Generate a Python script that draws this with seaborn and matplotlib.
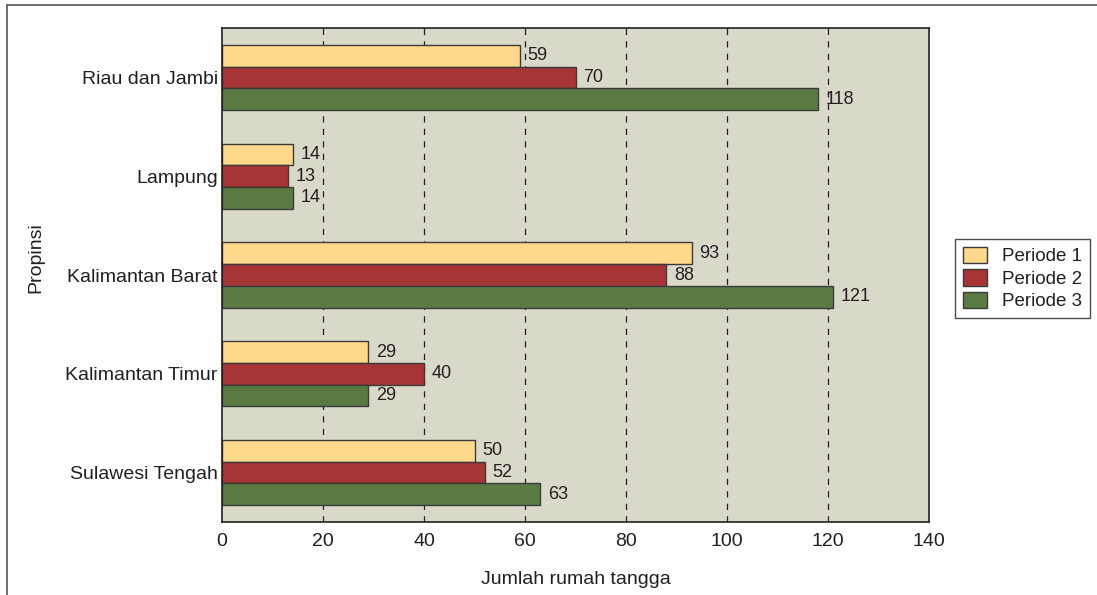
import matplotlib
matplotlib.use("Agg")
import matplotlib.pyplot as plt
import seaborn as sns
import pandas as pd
from matplotlib.patches import Rectangle
from matplotlib.lines import Line2D

provinces = ["Riau dan Jambi", "Lampung", "Kalimantan Barat", "Kalimantan Timur", "Sulawesi Tengah"]
periods = ["Periode 1", "Periode 2", "Periode 3"]
periode_1 = [59, 14, 93, 29, 50]
periode_2 = [70, 13, 88, 40, 52]
periode_3 = [118, 14, 121, 29, 63]
x_ticks = [0, 20, 40, 60, 80, 100, 120, 140]

colors = ["#FFD98B", "#A83535", "#5B7A43"]

rows = []
for name, vals in zip(periods, [periode_1, periode_2, periode_3]):
    for prov, v in zip(provinces, vals):
        rows.append({"Propinsi": prov, "Periode": name, "Jumlah": v})
df = pd.DataFrame(rows)

sns.set_theme(style="white")
plt.rcParams["font.family"] = ["Liberation Sans", "DejaVu Sans"]
plt.rcParams["text.color"] = "#231f20"

fig = plt.figure(figsize=(10.97, 5.95), dpi=100)
ax = fig.add_axes([222 / 1097, 1 - 522 / 595, (929 - 222) / 1097, (522 - 28) / 595])

sns.barplot(data=df, y="Propinsi", x="Jumlah", hue="Periode", order=provinces,
            hue_order=periods, palette=colors, orient="h", width=0.66,
            edgecolor="#3a3a3a", linewidth=1.0, saturation=1, ax=ax, legend=False)

ax.set_facecolor("#D9D9C9")
ax.set_xlim(0, 140)
ax.set_ylim(len(provinces) - 0.5, -0.5)
ax.set_xticks(x_ticks)
ax.set_xticklabels([str(t) for t in x_ticks], fontsize=14, color="#231f20")

# category labels centred, ticks on group boundaries
ax.set_yticks(range(len(provinces)))
ax.set_yticklabels(provinces, fontsize=14, color="#231f20")
ax.tick_params(axis="y", which="major", length=0, pad=3)
ax.set_yticks([i - 0.5 for i in range(len(provinces) + 1)], minor=True)
ax.tick_params(axis="y", which="minor", length=5, width=1, color="#231f20", direction="out")
ax.tick_params(axis="x", which="major", length=5, width=1, color="#231f20", direction="out", pad=3)

for x in x_ticks[1:-1]:
    ax.axvline(x, color="#231f20", linestyle=(0, (5, 5)), linewidth=0.9, zorder=0.5)

for s in ax.spines.values():
    s.set_color("#231f20")
    s.set_linewidth(1.2)
    s.set_visible(True)

for cont in ax.containers:
    ax.bar_label(cont, padding=5.5, fontsize=13, color="#231f20")

ax.set_xlabel("Jumlah rumah tangga", fontsize=14, color="#231f20")
ax.set_ylabel("Propinsi", fontsize=14, color="#231f20")
ax.xaxis.set_label_coords(0.5, -0.099)
ax.yaxis.set_label_coords(-0.251, 0.535)

handles = [Rectangle((0, 0), 1, 1, facecolor=c, edgecolor="#3a3a3a", linewidth=1.0) for c in colors]
fig.legend(handles, periods, loc="upper left", bbox_to_anchor=(955 / 1097, 1 - 239 / 595),
           fontsize=13.5, frameon=True, fancybox=False, edgecolor="#231f20",
           handlelength=1.3, handleheight=1.0, handletextpad=0.8, borderpad=0.4,
           labelspacing=0.2, borderaxespad=0)

# outer frame of the figure (top and left edges)
fig.add_artist(Line2D([7 / 1097, 1], [1 - 5 / 595, 1 - 5 / 595], transform=fig.transFigure,
                      color="#555555", linewidth=1.2))
fig.add_artist(Line2D([7 / 1097, 7 / 1097], [0, 1 - 5 / 595], transform=fig.transFigure,
                      color="#555555", linewidth=1.2))

fig.savefig("out.png", dpi=100)
